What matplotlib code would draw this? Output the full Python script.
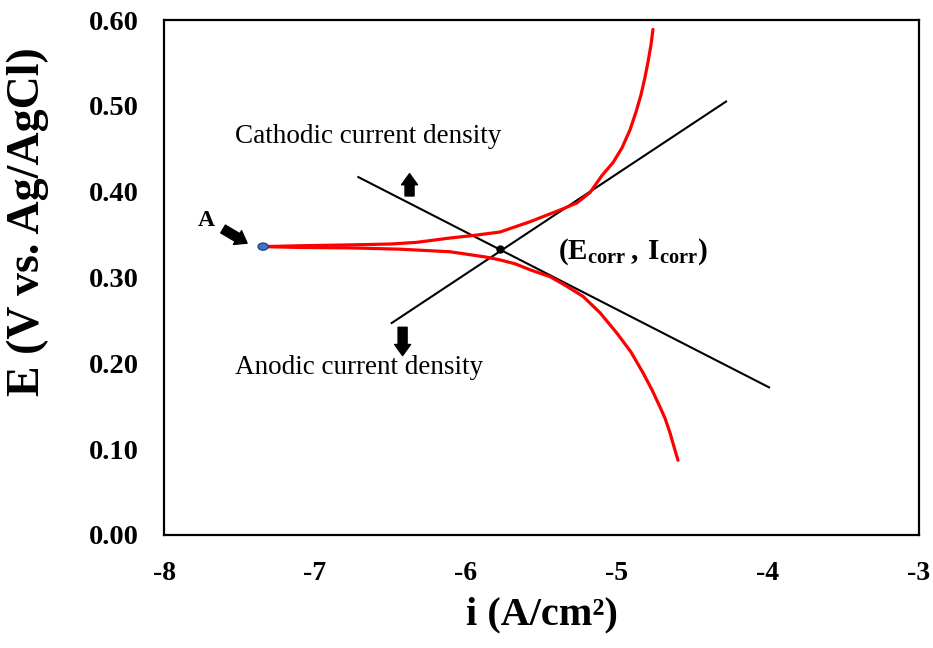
import matplotlib

matplotlib.use("Agg")
import matplotlib.pyplot as plt
from matplotlib.patches import Ellipse

plt.rcParams["font.family"] = ["Liberation Serif", "DejaVu Serif"]
plt.rcParams["axes.unicode_minus"] = False
plt.rcParams["mathtext.fontset"] = "custom"
plt.rcParams["mathtext.rm"] = "Liberation Serif"
plt.rcParams["mathtext.bf"] = "Liberation Serif:bold"

# Polarisation curve, upper branch (log i, E)
upper_i = [-7.344, -7.099, -6.768, -6.5, -6.325, -6.106, -5.95, -5.775, -5.576,
           -5.358, -5.265, -5.179, -5.099, -5.026, -4.967, -4.914, -4.874,
           -4.841, -4.815, -4.795, -4.775, -4.762]
upper_e = [0.336, 0.337, 0.338, 0.339, 0.341, 0.346, 0.349, 0.353, 0.365,
           0.380, 0.387, 0.399, 0.419, 0.434, 0.451, 0.472, 0.493,
           0.513, 0.533, 0.551, 0.571, 0.589]

# Polarisation curve, lower branch
lower_i = [-7.344, -7.099, -6.768, -6.437, -6.106, -5.874, -5.775, -5.675,
           -5.576, -5.444, -5.344, -5.225, -5.113, -5.0, -4.907, -4.828,
           -4.768, -4.715, -4.682, -4.649, -4.623, -4.596]
lower_e = [0.336, 0.335, 0.3345, 0.333, 0.330, 0.324, 0.3205, 0.316,
           0.309, 0.301, 0.291, 0.278, 0.259, 0.235, 0.213, 0.189,
           0.169, 0.149, 0.136, 0.119, 0.103, 0.087]

# Tafel extrapolation lines
cathodic_i = [-6.713, -3.993]
cathodic_e = [0.417, 0.172]
anodic_i = [-6.492, -4.278]
anodic_e = [0.247, 0.505]

# Corrosion point
e_corr_i = -5.775
e_corr_e = 0.333

x_ticks = [-8, -7, -6, -5, -4, -3]
y_ticks = [0.0, 0.1, 0.2, 0.3, 0.4, 0.5, 0.6]


def block_arrow(ax, start, end):
    ax.annotate("", xy=end, xytext=start,
                arrowprops=dict(arrowstyle="simple,head_length=0.8,head_width=1.15,tail_width=0.65",
                                color="black", shrinkA=0, shrinkB=0, mutation_scale=10))


fig = plt.figure(figsize=(9.33, 6.48), dpi=100)
ax = fig.add_axes([0.1758, 0.1744, 0.8092, 0.7947])

ax.plot(cathodic_i, cathodic_e, color="black", lw=1.5)
ax.plot(anodic_i, anodic_e, color="black", lw=1.5)
ax.plot(upper_i, upper_e, color="#FF0000", lw=2.3,
        solid_capstyle="round", solid_joinstyle="round")
ax.plot(lower_i, lower_e, color="#FF0000", lw=2.3,
        solid_capstyle="round", solid_joinstyle="round")
ax.plot([e_corr_i], [e_corr_e], "o", color="black", ms=5)

ax.add_patch(Ellipse((upper_i[0], upper_e[0]), 0.068, 0.0085,
                     facecolor="#4472C4", edgecolor="#1F3864", lw=0.8, zorder=5))

# arrows
block_arrow(ax, (-7.609, 0.3565), (-7.45, 0.340))
block_arrow(ax, (-6.374, 0.395), (-6.374, 0.421))
block_arrow(ax, (-6.42, 0.242), (-6.42, 0.209))

ax.text(-7.72, 0.366, "A", fontsize=17, fontweight="bold", ha="center", va="center")
ax.text(-7.53, 0.464, "Cathodic current density", fontsize=19.5, ha="left", va="center")
ax.text(-7.53, 0.195, "Anodic current density", fontsize=19.5, ha="left", va="center")
ax.text(-5.39, 0.330, r"$\mathbf{(E_{corr}\,,\,I_{corr})}$", fontsize=21,
        ha="left", va="center")

ax.set_xlim(-8, -3)
ax.set_ylim(0, 0.6)
ax.set_xticks(x_ticks)
ax.set_yticks(y_ticks)
ax.set_xticklabels([str(t) for t in x_ticks], fontsize=20, fontweight="bold")
ax.set_yticklabels([f"{t:.2f}" for t in y_ticks], fontsize=20.5, fontweight="bold")
ax.tick_params(axis="both", length=0)
ax.tick_params(axis="x", pad=19)
ax.tick_params(axis="y", pad=18)
for spine in ax.spines.values():
    spine.set_linewidth(1.6)

fig.text(28 / 933, 1 - 222 / 648, "E (V vs. Ag/AgCl)", fontsize=33, fontweight="bold",
         rotation=90, ha="center", va="center")
fig.text(542 / 933, 1 - 615 / 648, "i (A/cm²)", fontsize=29, fontweight="bold",
         ha="center", va="center")

fig.savefig("out.png", dpi=100)
